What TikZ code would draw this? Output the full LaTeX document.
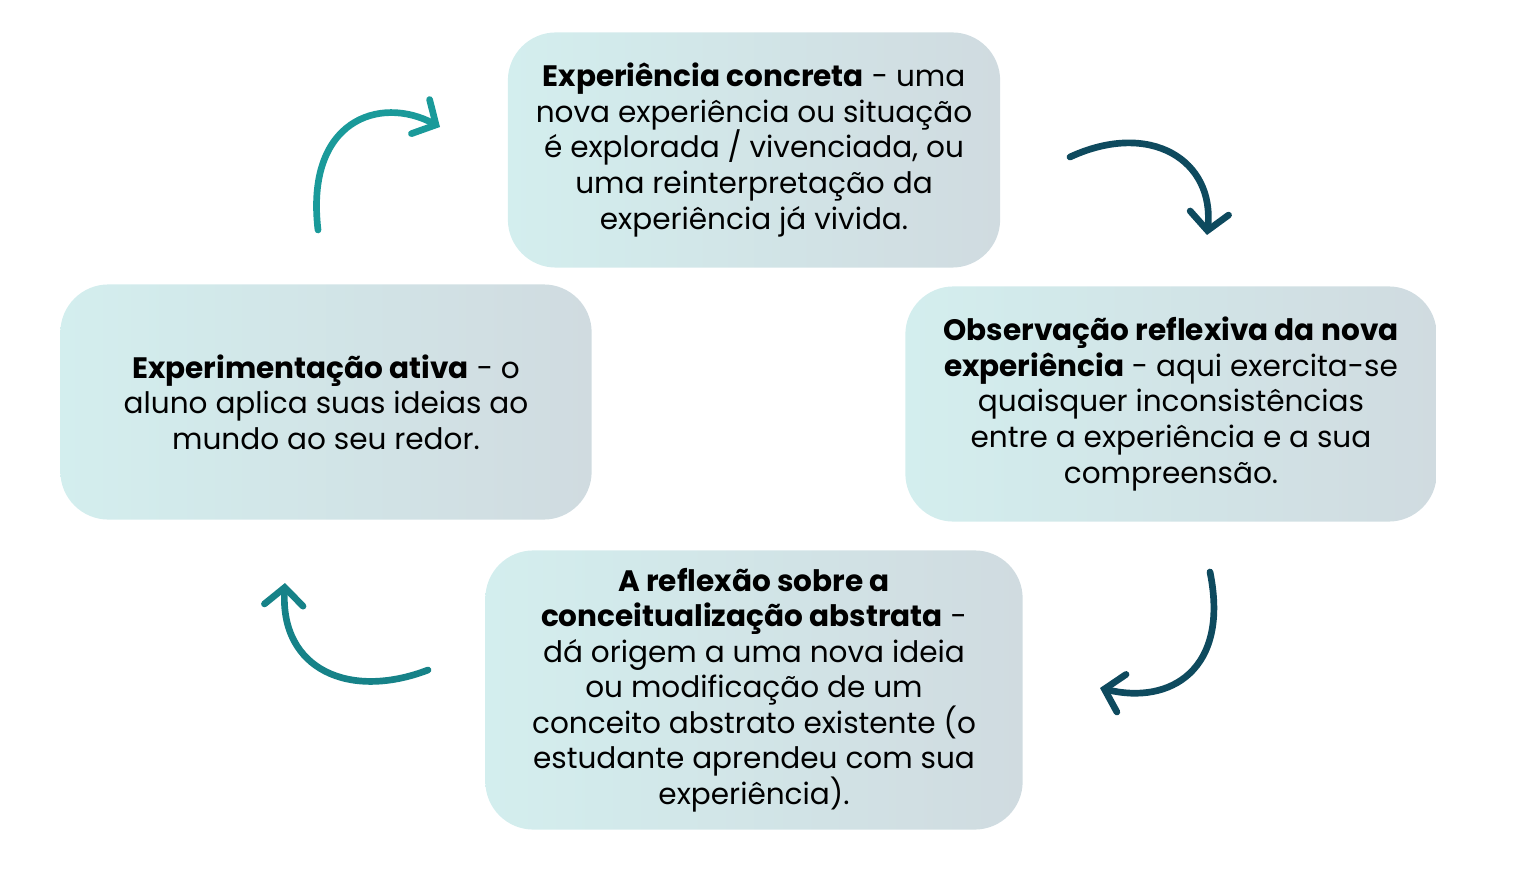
\documentclass[tikz,border=0pt]{standalone}
\usepackage{fontspec}
\setmainfont{Poppins}
\usetikzlibrary{arrows.meta}
\definecolor{boxL}{HTML}{D3EEEE}
\definecolor{boxR}{HTML}{D0DBE0}
\definecolor{arrL}{HTML}{1A9A9A}
\definecolor{arrD}{HTML}{0E4A5E}
\tikzset{
  stage/.style={rounded corners=0.48cm, left color=boxL, right color=boxR,
    draw=none, align=center, inner sep=0pt, font=\fontsize{8.4}{10.1}\selectfont},
  cycle/.style={line width=1.9pt, line cap=round, draw=arrD,
    -{Straight Barb[length=5pt,width=11pt,line width=1.9pt,line cap=round]}},
}
\begin{document}
\begin{tikzpicture}[x=0.01cm,y=-0.01cm]
\useasboundingbox (0,0) rectangle (1536,876);
% caixas
\node[stage, minimum width=4.92cm, minimum height=2.35cm] (ce) at (754,150)
  {\textbf{Experiência concreta} - uma\\nova experiência ou situação\\é explorada / vivenciada, ou\\uma reinterpretação da\\experiência já vivida.};
\node[stage, minimum width=5.31cm, minimum height=2.35cm] (ea) at (326,402)
  {\textbf{Experimentação ativa} - o\\aluno aplica suas ideias ao\\mundo ao seu redor.};
\node[stage, minimum width=5.31cm, minimum height=2.35cm] (or) at (1171,404)
  {\textbf{Observação reflexiva da nova}\\\textbf{experiência} - aqui exercita-se\\quaisquer inconsistências\\entre a experiência e a sua\\compreensão.};
\node[stage, minimum width=5.37cm, minimum height=2.79cm] (ca) at (754,690)
  {\textbf{A reflexão sobre a}\\\textbf{conceitualização abstrata} -\\dá origem a uma nova ideia\\ou modificação de um\\conceito abstrato existente (o\\estudante aprendeu com sua\\experiência).};
% setas do ciclo
\coordinate (a1) at (318,230); \coordinate (b1) at (440,127);
\coordinate (a2) at (1070,157); \coordinate (b2) at (1207,235);
\coordinate (a3) at (1210,572); \coordinate (b3) at (1100,688);
\coordinate (a4) at (428,670); \coordinate (b4) at (285,583);
\draw[cycle, draw=arrL] (a1) .. controls (305,120) and (380,95) .. (b1);
\draw[cycle] (a2) .. controls (1150,120) and (1215,160) .. (b2);
\draw[cycle] (a3) .. controls (1230,670) and (1170,705) .. (b3);
\draw[cycle, draw=arrL!70!arrD] (a4) .. controls (350,700) and (280,670) .. (b4);
\end{tikzpicture}
\end{document}
